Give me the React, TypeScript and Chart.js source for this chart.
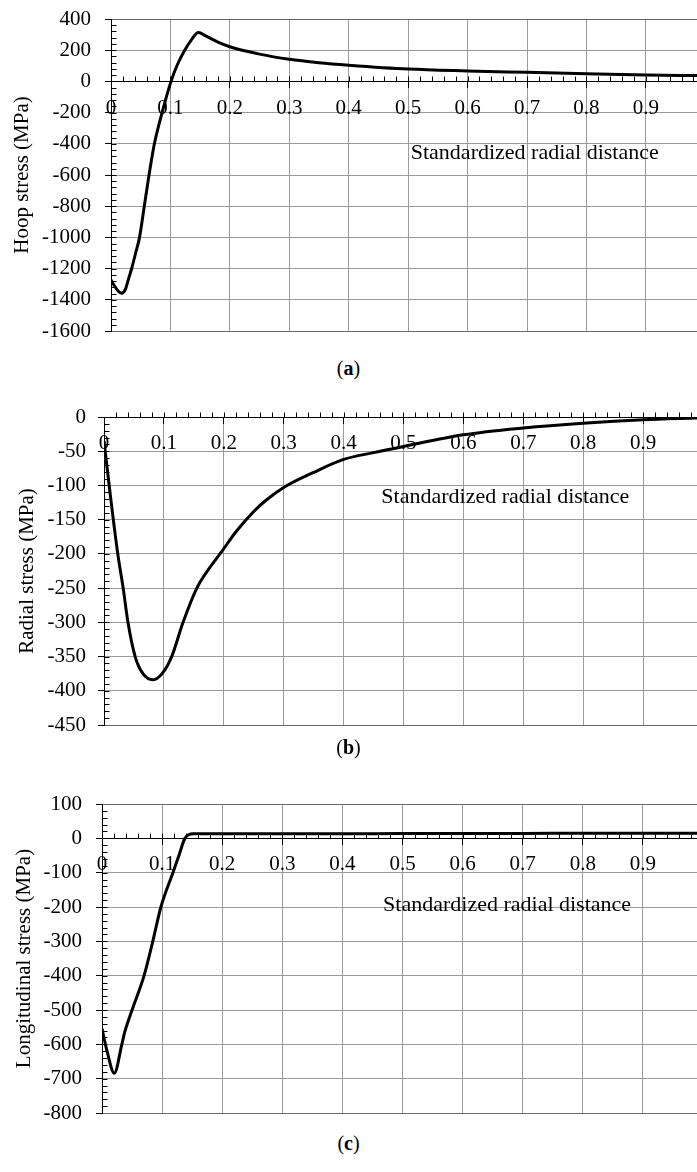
import React, { useEffect, useRef } from 'react';
import { Chart, registerables } from 'chart.js';

Chart.register(...registerables);

const FONT = "'Liberation Serif', 'Times New Roman', serif";

// (a) Hoop stress
const hoopX = [0, 0.007, 0.013, 0.018, 0.024, 0.029, 0.035, 0.042, 0.048, 0.056, 0.064, 0.073, 0.086, 0.101, 0.112, 0.124, 0.135, 0.147, 0.16, 0.18, 0.2, 0.25, 0.3, 0.35, 0.4, 0.5, 0.6, 0.7, 0.8, 0.9, 0.987];
const hoopY = [-1273, -1318, -1347, -1358, -1335, -1272, -1196, -1092, -1000, -800, -600, -400, -200, 0, 110, 200, 265, 313, 290, 252, 222, 175, 142, 120, 104, 79, 67, 58, 49, 41, 37];

// (b) Radial stress
const radialX = [0, 0.01, 0.023, 0.032, 0.04, 0.052, 0.065, 0.082, 0.097, 0.113, 0.132, 0.155, 0.175, 0.197, 0.22, 0.25, 0.27, 0.3, 0.35, 0.4, 0.45, 0.5, 0.6, 0.7, 0.8, 0.9, 0.99];
const radialY = [-35, -110, -200, -250, -300, -350, -375, -384, -375, -350, -300, -250, -222, -196, -168, -138, -122, -103, -81, -62, -52, -43, -26, -16, -9, -4, -1.5];

// (c) Longitudinal stress
const longX = [0, 0.008, 0.0205, 0.033, 0.038, 0.05, 0.07, 0.0845, 0.098, 0.118, 0.128, 0.138, 0.152, 0.2, 0.3, 0.4, 0.5, 0.6, 0.7, 0.8, 0.9, 0.99];
const longY = [-554, -617, -684, -600, -563, -500, -400, -300, -200, -100, -50, 0, 13, 13, 13, 13, 14, 14, 14, 15, 15, 15];

const xAxisText = 'Standardized radial distance';
const hoopTitle = 'Hoop stress (MPa)';
const radialTitle = 'Radial stress (MPa)';
const longTitle = 'Longitudinal stress (MPa)';

const minorTicks = {
  id: 'minorTicks',
  beforeDatasetsDraw(chart: any, _args: any, opts: any) {
    const { ctx, chartArea } = chart;
    const xs = chart.scales.x;
    const ys = chart.scales.y;
    const len = opts.len ?? 5;
    const y0 = Math.round(ys.getPixelForValue(0)) + 0.5;
    ctx.save();
    ctx.strokeStyle = '#000';
    ctx.lineWidth = 1;
    ctx.beginPath();
    const nx = Math.floor(xs.max / opts.xStep + 1e-9);
    for (let i = 1; i <= nx; i++) {
      const px = Math.round(xs.getPixelForValue(i * opts.xStep)) + 0.5;
      ctx.moveTo(px, y0);
      ctx.lineTo(px, y0 - len);
    }
    const left = Math.round(chartArea.left) + 0.5;
    const ny = Math.round((ys.max - ys.min) / opts.yStep);
    for (let i = 1; i < ny; i++) {
      const v = ys.min + i * opts.yStep;
      const py = Math.round(ys.getPixelForValue(v)) + 0.5;
      ctx.moveTo(left, py);
      ctx.lineTo(left + len, py);
    }
    ctx.stroke();
    ctx.restore();
  },
};

const innerLabel = {
  id: 'innerLabel',
  afterDatasetsDraw(chart: any, _args: any, opts: any) {
    const { ctx } = chart;
    ctx.save();
    ctx.font = `${opts.size}px ${FONT}`;
    ctx.fillStyle = '#000';
    ctx.textAlign = 'center';
    ctx.textBaseline = 'middle';
    ctx.fillText(opts.text, chart.scales.x.getPixelForValue(opts.x), chart.scales.y.getPixelForValue(opts.y));
    ctx.restore();
  },
};

type PanelProps = {
  xs: number[];
  ys: number[];
  yMin: number;
  yMax: number;
  yStep: number;
  yMinorStep: number;
  xMax: number;
  yTitle: string;
  labelX: number;
  labelY: number;
  top: number;
  height: number;
  padTop: number;
  padBottom: number;
  axisWidth: number;
  tickPad: number;
  titlePad: number;
  caption: string;
  captionY: number;
};

function Panel(p: PanelProps) {
  const ref = useRef<HTMLCanvasElement | null>(null);
  useEffect(() => {
    if (!ref.current) return;
    const chart = new Chart(ref.current, {
      type: 'line',
      data: {
        datasets: [
          {
            data: p.xs.map((x, i) => ({ x, y: p.ys[i] })),
            borderColor: '#000',
            borderWidth: 3,
            pointRadius: 0,
            tension: 0.4,
            cubicInterpolationMode: 'monotone',
            fill: false,
          } as any,
        ],
      },
      options: {
        animation: false,
        responsive: false,
        devicePixelRatio: 1,
        layout: { padding: { top: p.padTop, bottom: p.padBottom, left: 0, right: 0 } },
        plugins: {
          legend: { display: false },
          tooltip: { enabled: false },
          minorTicks: { xStep: 0.02, yStep: p.yMinorStep, len: 5 },
          innerLabel: { text: xAxisText, x: p.labelX, y: p.labelY, size: 22 },
        } as any,
        scales: {
          x: {
            type: 'linear',
            position: { y: 0 } as any,
            min: 0,
            max: p.xMax,
            ticks: {
              stepSize: 0.1,
              includeBounds: false,
              autoSkip: false,
              maxRotation: 0,
              color: '#000',
              padding: 8,
              font: { family: FONT, size: 21 },
              callback: (v: any) => {
                const n = Math.round(Number(v) * 10) / 10;
                return n === 0 ? '0' : n.toFixed(1);
              },
            } as any,
            grid: { color: '#9a9a9a', tickColor: '#000', tickLength: 6, lineWidth: 1 },
            border: { color: '#000', width: 1 },
          },
          y: {
            type: 'linear',
            min: p.yMin,
            max: p.yMax,
            ticks: {
              stepSize: p.yStep,
              color: '#000',
              padding: p.tickPad,
              font: { family: FONT, size: 21 },
              callback: (v: any) => String(v),
            },
            grid: {
              color: (c: any) =>
                c.tick && (c.tick.value === p.yMin || c.tick.value === p.yMax) ? '#6a6a6a' : '#9a9a9a',
              tickColor: '#000',
              tickLength: 6,
              lineWidth: 1,
            },
            border: { color: '#000', width: 1 },
            title: {
              display: true,
              text: p.yTitle,
              color: '#000',
              font: { family: FONT, size: 21 },
              padding: { top: p.titlePad, bottom: 0 },
            },
            afterFit: (s: any) => {
              s.width = p.axisWidth;
              s.paddingTop = 0;
              s.paddingBottom = 0;
            },
          },
        },
      },
      plugins: [minorTicks, innerLabel],
    });
    return () => chart.destroy();
  }, []);
  return (
    <>
      <div style={{ position: 'absolute', left: 0, top: p.top, width: 697, height: p.height }}>
        <canvas ref={ref} width={697} height={p.height} style={{ display: 'block' }} />
      </div>
      <div
        style={{
          position: 'absolute',
          left: 0,
          top: p.captionY - 12,
          width: 697,
          height: 24,
          lineHeight: '24px',
          textAlign: 'center',
          fontFamily: FONT,
          fontSize: 20,
          color: '#000',
        }}
      >
        (<b>{p.caption}</b>)
      </div>
    </>
  );
}

export default function App() {
  return (
    <div style={{ position: 'absolute', left: 0, top: 0, width: 697, height: 1172, background: '#fff' }}>
      <Panel
        xs={hoopX}
        ys={hoopY}
        yMin={-1600}
        yMax={400}
        yStep={200}
        yMinorStep={40}
        xMax={0.986}
        yTitle={hoopTitle}
        labelX={0.713}
        labelY={-459}
        top={0}
        height={345}
        padTop={19}
        padBottom={14}
        axisWidth={111}
        tickPad={14}
        titlePad={10}
        caption="a"
        captionY={368}
      />
      <Panel
        xs={radialX}
        ys={radialY}
        yMin={-450}
        yMax={0}
        yStep={50}
        yMinorStep={10}
        xMax={0.99}
        yTitle={radialTitle}
        labelX={0.67}
        labelY={-117}
        top={390}
        height={350}
        padTop={27}
        padBottom={15}
        axisWidth={104}
        tickPad={12}
        titlePad={15}
        caption="b"
        captionY={747}
      />
      <Panel
        xs={longX}
        ys={longY}
        yMin={-800}
        yMax={100}
        yStep={100}
        yMinorStep={20}
        xMax={0.99}
        yTitle={longTitle}
        labelX={0.674}
        labelY={-195}
        top={780}
        height={345}
        padTop={24}
        padBottom={12}
        axisWidth={102}
        tickPad={14}
        titlePad={12}
        caption="c"
        captionY={1143}
      />
    </div>
  );
}
